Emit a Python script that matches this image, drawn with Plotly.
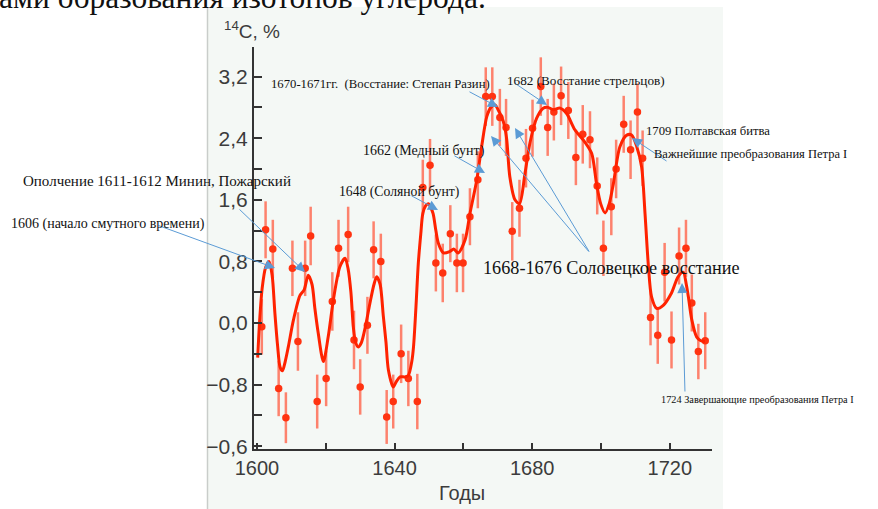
import plotly.graph_objects as go

# ---- data ----
years = [1601.4, 1602.5, 1604.6, 1606.3, 1608.4, 1610.3, 1611.9, 1614.0, 1615.6, 1617.5,
         1620.1, 1621.9, 1623.7, 1626.5, 1628.2, 1630.0, 1632.1, 1633.9, 1636.0, 1637.7,
         1639.6, 1641.9, 1644.0, 1646.6, 1648.2, 1650.3, 1652.0, 1654.0, 1656.2, 1658.1,
         1659.9, 1661.9, 1664.2, 1666.5, 1668.4, 1670.6, 1672.4, 1674.2, 1676.3, 1678.2,
         1680.1, 1682.5, 1684.5, 1686.3, 1688.4, 1690.5, 1692.7, 1694.7, 1696.8, 1698.9,
         1700.7, 1703.0, 1704.4, 1706.6, 1708.6, 1710.6, 1712.1, 1714.4, 1716.5, 1718.5,
         1720.5, 1722.7, 1724.7, 1726.4, 1728.3, 1730.3]
values = [-0.05, 1.21, 0.96, -0.85, -1.23, 0.71, -0.24, 0.71, 1.13, -1.02,
          -0.72, 0.28, 0.97, 1.15, -0.22, -0.83, -0.03, 0.95, 0.80, -1.22,
          -1.02, -0.40, -0.72, -1.02, 1.76, 2.05, 0.78, 0.65, 1.16, 0.78,
          0.78, 1.38, 1.86, 2.94, 2.94, 2.67, 2.54, 1.19, 1.49, 2.14,
          2.53, 3.07, 2.54, 2.74, 2.95, 2.76, 2.15, 2.45, 2.38, 1.78,
          0.97, 1.51, 2.00, 2.58, 2.25, 2.74, 2.14, 0.07, -0.16, 0.66,
          -0.22, 0.87, 0.97, 0.26, -0.37, -0.23]
errors = [0.36, 0.37, 0.38, 0.36, 0.33, 0.36, 0.38, 0.36, 0.38, 0.35,
          0.36, 0.38, 0.37, 0.36, 0.38, 0.36, 0.37, 0.37, 0.36, 0.35,
          0.35, 0.38, 0.36, 0.36, 0.36, 0.34, 0.37, 0.38, 0.37, 0.38,
          0.38, 0.37, 0.37, 0.38, 0.38, 0.37, 0.37, 0.38, 0.37, 0.38,
          0.37, 0.38, 0.37, 0.37, 0.38, 0.37, 0.36, 0.38, 0.37, 0.37,
          0.36, 0.37, 0.38, 0.37, 0.38, 0.37, 0.36, 0.36, 0.37, 0.38,
          0.37, 0.37, 0.37, 0.37, 0.36, 0.37]

fit_years = [1600.2, 1600.8, 1601.5, 1602.5, 1603.5, 1604.4, 1605.2, 1606.0, 1606.7, 1607.4,
             1608.2, 1609.1, 1610.6, 1612.5, 1613.7, 1614.9, 1616.0, 1616.8, 1617.8, 1619.3,
             1620.7, 1622.2, 1624.1, 1625.6, 1626.5, 1627.3, 1628.0, 1628.6, 1629.4, 1630.3,
             1631.5, 1632.8, 1634.0, 1634.8, 1635.8, 1636.7, 1637.5, 1638.2, 1639.6, 1640.5,
             1641.6, 1643.0, 1644.0, 1645.0, 1645.5, 1646.2, 1646.9, 1647.6, 1648.2, 1649.0,
             1649.8, 1650.5, 1651.2, 1652.0, 1652.7, 1654.2, 1656.1, 1657.2, 1658.5, 1660.5,
             1661.9, 1663.9, 1665.3, 1666.8, 1668.0, 1669.2, 1670.3, 1671.1, 1672.0, 1672.6,
             1673.5, 1675.0, 1676.3, 1677.9, 1679.4, 1681.3, 1683.2, 1684.6, 1686.1, 1688.1,
             1690.0, 1692.4, 1695.3, 1697.3, 1698.7, 1699.9, 1701.2, 1702.4, 1703.6, 1705.5,
             1707.5, 1708.9, 1710.4, 1711.8, 1712.8, 1713.8, 1714.7, 1716.2, 1718.1, 1720.5,
             1722.4, 1723.9, 1724.8, 1725.4, 1726.4, 1727.8, 1729.0, 1730.2]
fit_values = [-0.45, 0.05, 0.45, 0.72, 0.80, 0.62, 0.13, -0.30, -0.57, -0.62,
              -0.50, -0.31, 0.04, 0.36, 0.43, 0.62, 0.50, 0.20, -0.13, -0.50,
              -0.18, 0.30, 0.73, 0.84, 0.70, 0.40, -0.05, -0.24, -0.31, -0.26,
              -0.05, 0.25, 0.50, 0.60, 0.50, 0.10, -0.25, -0.61, -0.83, -0.76,
              -0.70, -0.70, -0.68, -0.50, -0.31, 0.20, 0.78, 1.15, 1.42, 1.52,
              1.55, 1.50, 1.42, 1.20, 1.04, 0.91, 0.93, 0.96, 0.91, 1.08,
              1.42, 1.86, 2.29, 2.68, 2.80, 2.83, 2.75, 2.68, 2.55, 2.38,
              1.90, 1.60, 1.55, 1.94, 2.35, 2.66, 2.79, 2.80, 2.77, 2.79,
              2.72, 2.51, 2.35, 2.20, 1.81, 1.55, 1.43, 1.55, 1.81, 2.29,
              2.44, 2.44, 2.29, 2.03, 1.42, 0.73, 0.34, 0.19, 0.23, 0.39,
              0.60, 0.66, 0.50, 0.34, 0.04, -0.18, -0.23, -0.24]

y_tickvals = [-1.6, -0.8, 0.0, 0.8, 1.6, 2.4, 3.2]
y_ticktext = ["\u22120,6", "\u22120,8", "0,0", "0,8", "1,6", "2,4", "3,2"]
x_tickvals = [1600, 1640, 1680, 1720]
x_ticktext = ["1600", "1640", "1680", "1720"]

# ---- layout geometry (pixels) ----
W, H = 878, 509
PL, PR, PT, PB = 254, 712, 47, 449
X0, X1 = 1599.13, 1732.27
Y0, Y1 = -1.636, 3.584


def px(xp):
    return (xp - PL) / (PR - PL)


def py(yp):
    return (PB - yp) / (PB - PT)


def dx(xp):
    return X0 + (xp - PL) / (PR - PL) * (X1 - X0)


def dy(yp):
    return Y0 + (PB - yp) / (PB - PT) * (Y1 - Y0)


fig = go.Figure()
fig.add_trace(go.Scatter(
    x=years, y=values, mode="markers",
    marker=dict(size=7.5, color="#ff3311"),
    error_y=dict(type="data", array=errors, color="rgba(255,100,75,0.8)", thickness=2.5, width=0),
    hoverinfo="x+y", showlegend=False))
fig.add_trace(go.Scatter(
    x=fit_years, y=fit_values, mode="lines",
    line=dict(color="#ff2200", width=3, shape="spline", smoothing=0.8),
    hoverinfo="skip", showlegend=False))

serif = "Liberation Serif, Times New Roman, serif"
sans = "Liberation Sans, Arial, Helvetica, sans-serif"

annotations = []

# arrows: (head_px, tail_px)
arrows = [
    ((275, 268), (157, 225)),
    ((305, 272), (238, 208)),
    ((438, 210), (410, 195)),
    ((485, 173), (453, 155)),
    ((498, 107), (468, 91)),
    ((547, 105), (513, 82)),
    ((491, 136), (590, 253)),
    ((515, 128), (590, 253)),
    ((632, 138), (668, 162)),
    ((682, 283), (685, 393)),
]
for (hx, hy), (tx, ty) in arrows:
    annotations.append(dict(
        x=dx(hx), y=dy(hy), xref="x", yref="y", ax=tx - hx, ay=ty - hy,
        text="", showarrow=True, arrowhead=2, arrowsize=2, arrowwidth=1,
        arrowcolor="#5b9bd5", standoff=0, startstandoff=0))

# text labels: (text, left_px, center_y_px, size)
labels = [
    ("1606 (начало смутного времени)", 9, 224, 14),
    ("Ополчение 1611-1612 Минин, Пожарский", 21, 181, 15),
    ("1648 (Соляной бунт)", 337, 192, 13.7),
    ("1662 (Медный бунт)", 361, 151, 14),
    ("1670-1671гг. \u00a0(Восстание: Степан Разин)", 269, 84, 12.7),
    ("1682 (Восстание стрельцов)", 505, 81, 13.2),
    ("1668-1676 Соловецкое восстание", 481, 268, 18.2),
    ("1709 Полтавская битва", 644, 131, 12.7),
    ("Важнейшие преобразования Петра I", 652, 154, 12.5),
    ("1724 Завершающие преобразования Петра I", 659, 399, 10.3),
]
for txt, lx, cy, sz in labels:
    annotations.append(dict(
        x=px(lx), y=py(cy), xref="paper", yref="paper", xanchor="left", yanchor="middle",
        text=txt, showarrow=False, font=dict(family=serif, size=sz, color="#111111")))

# top document text (partly cut off)
annotations.append(dict(
    x=px(-3), y=py(-3), xref="paper", yref="paper", xanchor="left", yanchor="middle",
    text="ами образования изотопов углерода.", showarrow=False,
    font=dict(family=serif, size=31.5, color="#111111")))

# axis titles
annotations.append(dict(
    x=px(252), y=py(30), xref="paper", yref="paper", xanchor="center", yanchor="middle",
    text="<sup>14</sup>C, %", showarrow=False, font=dict(family=sans, size=19, color="#3c3c3c")))
annotations.append(dict(
    x=px(462), y=py(493), xref="paper", yref="paper", xanchor="center", yanchor="middle",
    text="Годы", showarrow=False, font=dict(family=sans, size=20, color="#3c3c3c")))

shapes = [
    dict(type="rect", xref="paper", yref="paper", x0=px(207), x1=px(723), y0=py(520), y1=py(7),
         fillcolor="#f4f8f5", line=dict(width=0), layer="below"),
    dict(type="line", xref="paper", yref="paper", x0=px(207.5), x1=px(207.5), y0=py(520), y1=py(7),
         line=dict(color="#c9cdca", width=1.5), layer="below"),
]

fig.update_layout(
    width=W, height=H, autosize=False,
    margin=dict(l=PL, r=W - PR, t=PT, b=H - PB, pad=0),
    paper_bgcolor="#ffffff", plot_bgcolor="rgba(0,0,0,0)",
    annotations=annotations, shapes=shapes,
    xaxis=dict(range=[X0, X1], tickmode="array", tickvals=x_tickvals, ticktext=x_ticktext,
               ticks="inside", ticklen=6, tickwidth=2, tickcolor="#333333",
               minor=dict(tick0=1600, dtick=20, ticks="inside", ticklen=6, tickwidth=2,
                          tickcolor="#333333", showgrid=False),
               showline=True, linecolor="#333333", linewidth=2, showgrid=False, zeroline=False,
               tickfont=dict(family=sans, size=20, color="#3c3c3c"), fixedrange=True),
    yaxis=dict(range=[Y0, Y1], tickmode="array", tickvals=y_tickvals, ticktext=y_ticktext,
               ticks="inside", ticklen=8, tickwidth=2, tickcolor="#333333",
               minor=dict(tick0=-1.6, dtick=0.4, ticks="inside", ticklen=8, tickwidth=2,
                          tickcolor="#333333", showgrid=False),
               showline=True, linecolor="#333333", linewidth=2, showgrid=False, zeroline=False,
               tickfont=dict(family=sans, size=21, color="#3c3c3c"), fixedrange=True),
)

fig.write_html("out.html", config={"displayModeBar": False},
               post_script="document.body.style.margin='0px';")
